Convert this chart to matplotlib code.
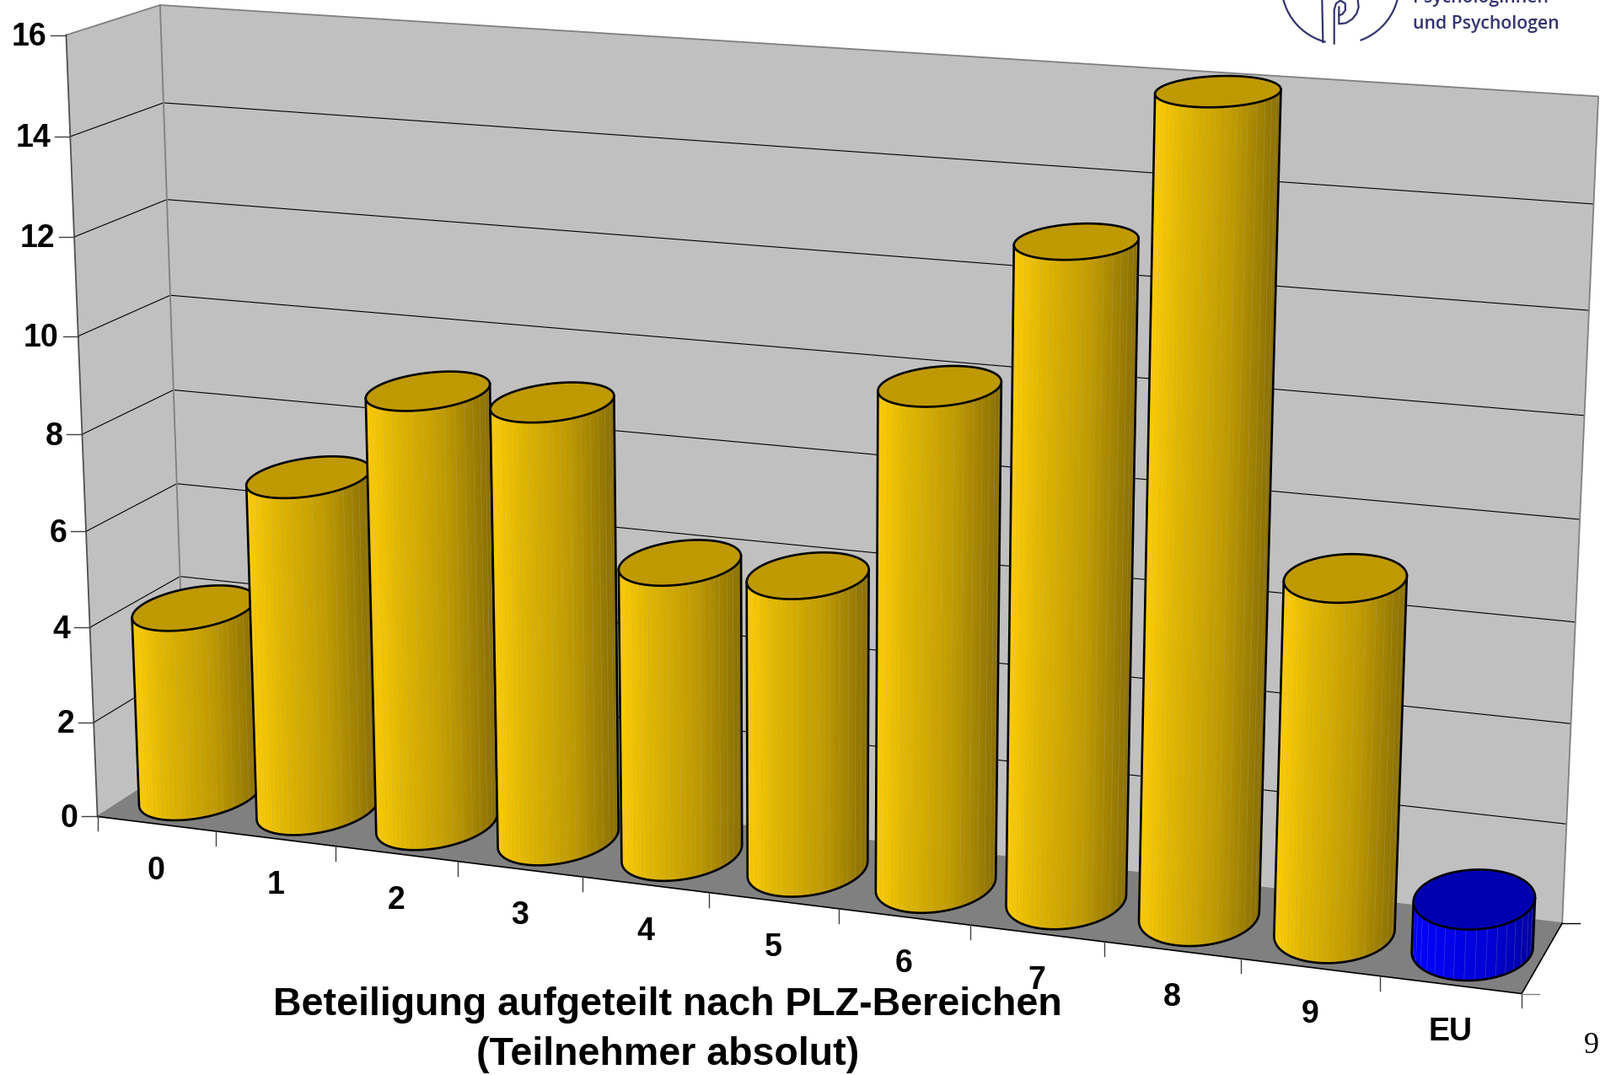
import numpy as np
import matplotlib
matplotlib.use("Agg")
import matplotlib.pyplot as plt
from matplotlib.patches import Polygon

categories = ["0", "1", "2", "3", "4", "5", "6", "7", "8", "9", "EU"]
values = [4, 7, 9, 9, 6, 6, 10, 13, 16, 7, 1]
y_ticks = [0, 2, 4, 6, 8, 10, 12, 14, 16]

title_lines = ["Beteiligung aufgeteilt nach PLZ-Bereichen", "(Teilnehmer absolut)"]

# canvas units, same as the 1568 wide view of the picture
W, H = 1568, 1052.8
SCALE = 1899 / W

RX, RD = 0.415, 0.43
N_FACETS = 72

YELLOW = [(255, 204, 0), (226, 184, 0), (192, 155, 0), (136, 109, 0)]
YELLOW_TOP = "#BF9900"
BLUE = [(0, 0, 255), (0, 0, 240), (0, 0, 215), (0, 0, 160)]
BLUE_TOP = "#0000B0"
NAVY = "#34346E"


def fit_projection():
    # (category, value, depth) -> canvas, fitted on the chart frame corners
    refs = []
    left_front = [(96, 799), (92, 707), (88, 615), (84, 520), (80, 425), (76, 329), (73, 232), (69, 133), (65, 37)]
    left_back = [(184, 748), (180, 656), (176, 564), (173, 472), (170, 381), (166, 288), (163, 195), (160, 101), (157, 5)]
    right_back = [(1534, 903), (1533, 806), (1536, 709), (1541, 609), (1546, 508), (1551, 407), (1557, 304), (1562, 200), (1568, 95)]
    for i, v in enumerate(y_ticks):
        refs.append((0, v, 0, *left_front[i]))
        refs.append((0, v, 1, *left_back[i]))
        refs.append((11, v, 1, *right_back[i]))
    front_x = [96, 210, 328, 448, 571, 695, 822, 950, 1081, 1215, 1352, 1491]
    for i, x in enumerate(front_x):
        refs.append((i, 0, 0, x, 799 + (x - 96) * 175 / 1395))
    a, b = [], []
    for X, Y, Z, u, v in refs:
        a.append([X, Y, Z, 1, 0, 0, 0, 0, -u * X, -u * Y, -u * Z])
        b.append(u)
        a.append([0, 0, 0, 0, X, Y, Z, 1, -v * X, -v * Y, -v * Z])
        b.append(v)
    m = np.linalg.lstsq(np.array(a, float), np.array(b, float), rcond=None)[0]
    return np.append(m, 1).reshape(3, 4)


M = fit_projection()


def project(x, v, d):
    x, v, d = np.broadcast_arrays(x, v, d)
    p = M @ np.vstack([x.ravel(), v.ravel(), d.ravel(), np.ones(x.size)])
    return np.column_stack([p[0] / p[2], p[1] / p[2]])


def shade(t, stops):
    pos = [0, 0.2, 0.6, 1]
    return tuple(np.interp(t, pos, [s[c] for s in stops]) / 255 for c in range(3))


def draw_walls(ax):
    n = len(categories)
    top = y_ticks[-1]
    ax.add_patch(Polygon(project([0, n, n, 0], 0, [0, 0, 1, 1]), fc="#808080", ec="none", zorder=1))
    ax.add_patch(Polygon(project(0, [0, top, top, 0], [0, 0, 1, 1]), fc="#C0C0C0", ec="none", zorder=1))
    ax.add_patch(Polygon(project([0, n, n, 0], [0, 0, top, top], 1), fc="#C0C0C0", ec="none", zorder=1))

    for v in y_ticks[1:-1]:
        line = project([0, 0, n], v, [0, 1, 1])
        ax.plot(line[:, 0], line[:, 1], color="black", lw=0.8, zorder=2)
    # frame edges
    for pts in ([(0, top, 0), (0, top, 1), (n, top, 1), (n, 0, 1)], [(0, 0, 1), (0, top, 1)], [(0, 0, 0), (0, 0, 1), (n, 0, 1)]):
        p = np.array(pts)
        line = project(p[:, 0], p[:, 1], p[:, 2])
        ax.plot(line[:, 0], line[:, 1], color="#808080", lw=1.3, zorder=2)
    p = project(0, [0, top], 0)
    ax.plot(p[:, 0], p[:, 1], color="#505050", lw=1.3, zorder=2)
    p = project([0, n, n], 0, [0, 0, 1])
    ax.plot(p[:, 0], p[:, 1], color="black", lw=1.2, zorder=2)


def draw_ticks(ax):
    n = len(categories)
    for v in y_ticks:
        x, y = project(0, v, 0)[0]
        ax.plot([x - 15, x], [y, y], color="#404040", lw=1, zorder=2)
        ax.text(x - 19, y + 2, str(v), ha="right", va="center", fontsize=27, fontweight="bold",
                family="Liberation Sans", color="black")
    for i in range(n + 1):
        x, y = project(i, 0, 0)[0]
        ax.plot([x, x], [y, y + 14], color="#404040", lw=1, zorder=2)
    # the two small marks at the right floor corners
    x, y = project(n, 0, 0)[0]
    ax.plot([x, x + 17], [y, y], color="#808080", lw=1, zorder=2)
    x, y = project(n, 0, 1)[0]
    ax.plot([x, x + 17], [y, y], color="black", lw=1, zorder=2)
    for i, label in enumerate(categories):
        x, y = project(i + 0.5, 0, 0)[0]
        ax.text(x, y + 46, label, ha="center", va="center", fontsize=27, fontweight="bold",
                family="Liberation Sans", color="black", zorder=20)


def draw_cylinder(ax, i, value, z):
    stops, top_color = (BLUE, BLUE_TOP) if categories[i] == "EU" else (YELLOW, YELLOW_TOP)
    theta = np.linspace(0, 2 * np.pi, N_FACETS + 1)
    cx = i + 0.5 + RX * np.cos(theta)
    cd = 0.5 + RD * np.sin(theta)
    bottom = project(cx, 0, cd)
    upper = project(cx, value, cd)

    # signed area tells which facets look at the viewer
    areas = []
    for k in range(N_FACETS):
        q = np.array([bottom[k], bottom[k + 1], upper[k + 1], upper[k]])
        areas.append(np.sum(q[:, 0] * np.roll(q[:, 1], -1) - np.roll(q[:, 0], -1) * q[:, 1]))
    areas = np.array(areas)
    front = areas[int(N_FACETS * 0.75)]
    visible = [k for k in range(N_FACETS) if areas[k] * front > 0]
    visible.sort(key=lambda k: bottom[k, 0])

    x_min = bottom[visible, 0].min()
    x_max = bottom[visible, 0].max()
    for k in visible:
        t = (bottom[k, 0] - x_min) / (x_max - x_min)
        color = shade(t, stops)
        q = [bottom[k], bottom[k + 1], upper[k + 1], upper[k]]
        ax.add_patch(Polygon(q, fc=color, ec=color, lw=0.4, zorder=z))
        # faint seams between the strips
        if k % 2 == 0:
            ax.plot([bottom[k, 0], upper[k, 0]], [bottom[k, 1], upper[k, 1]], color="#B0B0B0",
                    alpha=0.3, lw=0.5, zorder=z + 0.05)

    chain = []
    for k in visible:
        chain.extend([bottom[k], bottom[k + 1]])
    chain = sorted(chain, key=lambda p: p[0])
    left_top = upper[np.argmin(upper[:, 0])]
    right_top = upper[np.argmax(upper[:, 0])]
    outline = np.array([left_top] + chain + [right_top])
    ax.plot(outline[:, 0], outline[:, 1], color="black", lw=1.9, zorder=z + 0.1, solid_joinstyle="round")
    ax.add_patch(Polygon(upper[:-1], fc=top_color, ec="black", lw=1.9, zorder=z + 0.2))


def draw_logo(ax):
    s = SCALE
    angles = np.radians(np.linspace(-15, 195, 200))
    cx, cy, r = 1590 / s, -17.8 / s, 69.8 / s
    right_arc = angles[angles < np.radians(70)]
    left_arc = angles[angles > np.radians(105)]
    ax.plot(cx + r * np.cos(right_arc), cy + r * np.sin(right_arc), color=NAVY, lw=1.6)
    ax.plot(cx + r * np.cos(left_arc), cy + r * np.sin(left_arc), color=NAVY, lw=1.6)
    # spiral inside the circle, read in zoom pixels
    to_canvas = lambda pts: (np.array(pts) / 3 + [1450, 0]) / s
    for pts in ([(358, 150), (355, 0)],
                [(398, 155), (398, 35), (405, 12), (420, 2), (437, 12), (438, 35), (428, 50), (415, 55)],
                [(415, 25), (415, 85), (440, 82), (462, 68), (478, 48), (485, 25), (482, 0)]):
        p = to_canvas(pts)
        ax.plot(p[:, 0], p[:, 1], color=NAVY, lw=1.6)
    ax.text(1384, 2.5, "Psychologinnen", ha="left", va="baseline", fontsize=15.3, family="Open Sans",
            color=NAVY, fontweight="semibold")
    ax.text(1384, 28, "und Psychologen", ha="left", va="baseline", fontsize=15.3, family="Open Sans",
            color=NAVY, fontweight="semibold")


def main():
    fig = plt.figure(figsize=(18.99, 12.75), dpi=100)
    ax = fig.add_axes([0, 0, 1, 1])
    ax.set_xlim(0, W)
    ax.set_ylim(H, 0)
    ax.axis("off")

    draw_walls(ax)
    draw_ticks(ax)
    for i, value in enumerate(values):
        draw_cylinder(ax, i, value, 5 + i)
    draw_logo(ax)

    ax.text(654, 984, title_lines[0], ha="center", va="center", fontsize=33.5, fontweight="bold",
            family="Liberation Sans", zorder=30)
    ax.text(654, 1033, title_lines[1], ha="center", va="center", fontsize=33.5, fontweight="bold",
            family="Liberation Sans", zorder=30)
    ax.text(1551, 1024, "9", ha="left", va="center", fontsize=26, family="Liberation Serif", zorder=30)

    fig.savefig("out.png", dpi=100)


if __name__ == "__main__":
    main()
